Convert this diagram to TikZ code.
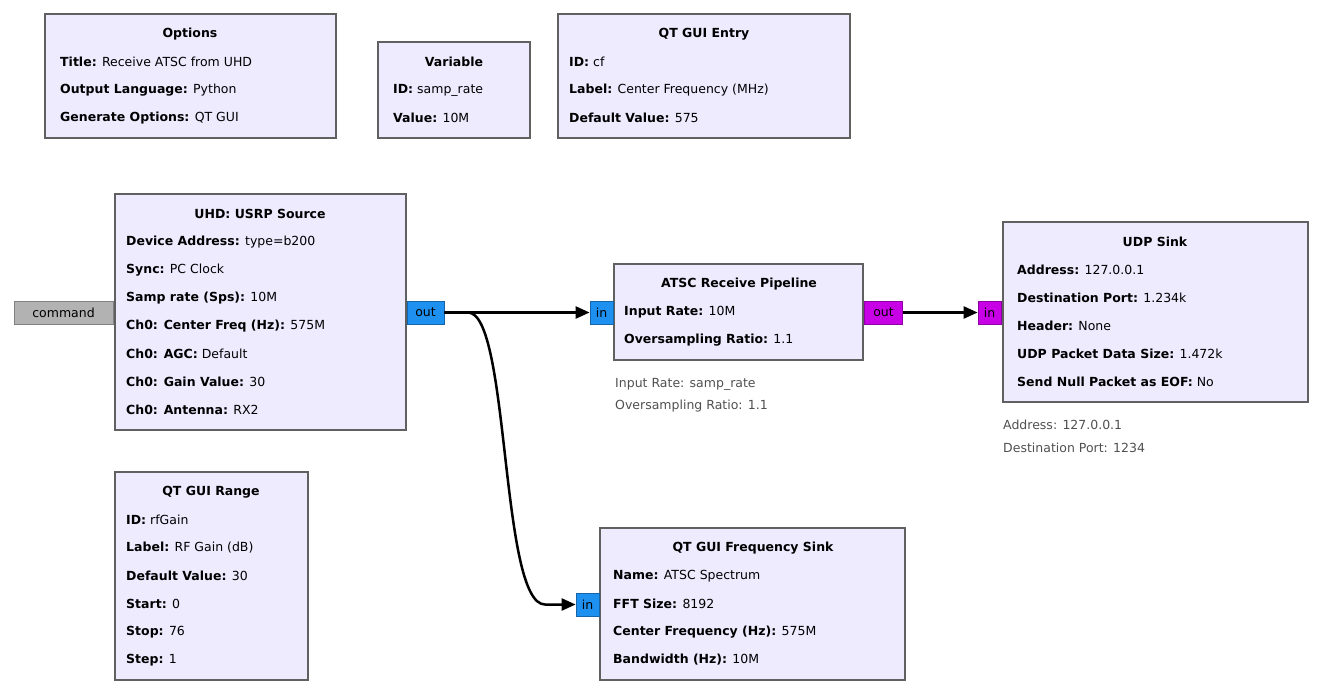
\documentclass[tikz,border=0pt]{standalone}
\usepackage{fontspec}
\setmainfont{DejaVu Sans}
\usetikzlibrary{arrows.meta}
\definecolor{bfill}{RGB}{238,235,255}
\definecolor{bdraw}{RGB}{96,96,96}
\definecolor{pblue}{RGB}{30,144,240}
\definecolor{pmag}{RGB}{200,0,230}
\definecolor{cgray}{RGB}{80,80,80}
\tikzset{
 blk/.style={draw=bdraw,fill=bfill,line width=2.5pt,inner sep=0pt},
 ttl/.style={font=\fontsize{12.5}{14}\selectfont\bfseries,inner sep=0pt,anchor=center},
 ln/.style={font=\fontsize{12.5}{14}\selectfont,inner sep=0pt,anchor=west},
 cmt/.style={font=\fontsize{12.5}{14}\selectfont,text=cgray,inner sep=0pt,anchor=west},
 port/.style={draw,line width=0.8pt,inner sep=0pt,font=\fontsize{12.5}{14}\selectfont,anchor=center},
 bport/.style={port,fill=pblue,draw=pblue!70!black},
 mport/.style={port,fill=pmag,draw=pmag!70!black},
 gport/.style={port,fill=gray!60,draw=gray},
 wire/.style={line width=2.5pt,-{Triangle[length=14pt,width=12pt]}}
}
\newcommand{\blkrect}[5]{\path[blk] (#2,#3) rectangle (#4,#5); \coordinate (#1) at (#2,#3);}
\begin{document}
\begin{tikzpicture}[x=1pt,y=-1pt]
\useasboundingbox (0,0) rectangle (1322,694);
% Options
\blkrect{opt}{45}{14}{336}{138}
\node[ttl] (optt) at (190,34) {Options};
\node[ln] (opt1) at (60,62) {\textbf{Title:} Receive ATSC from UHD};
\node[ln] (opt2) at (60,90) {\textbf{Output Language:} Python};
\node[ln] (opt3) at (60,118) {\textbf{Generate Options:} QT GUI};
% Variable
\blkrect{var}{378}{42}{530}{138}
\node[ttl] (vart) at (454,62) {Variable};
\node[ln] (var1) at (393,90) {\textbf{ID:} samp\_rate};
\node[ln] (var2) at (393,118) {\textbf{Value:} 10M};
% QT GUI Entry
\blkrect{ent}{558}{14}{850}{138}
\node[ttl] (entt) at (704,34) {QT GUI Entry};
\node[ln] (ent1) at (569,62) {\textbf{ID:} cf};
\node[ln] (ent2) at (569,90) {\textbf{Label:} Center Frequency (MHz)};
\node[ln] (ent3) at (569,118) {\textbf{Default Value:} 575};
% UHD
\blkrect{uhd}{115}{194}{406}{430}
\node[ttl] (uhdt) at (260,214) {UHD: USRP Source};
\node[ln] (u1) at (126,242) {\textbf{Device Address:} type=b200};
\node[ln] (u2) at (126,270) {\textbf{Sync:} PC Clock};
\node[ln] (u3) at (126,298) {\textbf{Samp rate (Sps):} 10M};
\node[ln] (u4) at (126,326) {\textbf{Ch0: Center Freq (Hz):} 575M};
\node[ln] (u5) at (126,354) {\textbf{Ch0: AGC:} Default};
\node[ln] (u6) at (126,382) {\textbf{Ch0: Gain Value:} 30};
\node[ln] (u7) at (126,410) {\textbf{Ch0: Antenna:} RX2};
\node[gport,minimum width=99pt,minimum height=23pt] (cmd) at (63.5,312.5) {command};
\node[bport,minimum width=37pt,minimum height=23pt] (uout) at (425.5,312.5) {out};
% ATSC
\blkrect{atsc}{614}{264}{863}{360}
\node[ttl] (at) at (739,284) {ATSC Receive Pipeline};
\node[ln] (a1) at (624,312) {\textbf{Input Rate:} 10M};
\node[ln] (a2) at (624,340) {\textbf{Oversampling Ratio:} 1.1};
\node[bport,minimum width=23pt,minimum height=23pt] (ain) at (601.5,312.5) {in};
\node[mport,minimum width=38pt,minimum height=23pt] (aout) at (883.5,312.5) {out};
\node[cmt] (ac1) at (615,384) {Input Rate: samp\_rate};
\node[cmt] (ac2) at (615,406) {Oversampling Ratio: 1.1};
% UDP
\blkrect{udp}{1003}{222}{1308}{402}
\node[ttl] (udt) at (1155,242) {UDP Sink};
\node[ln] (d1) at (1017,270) {\textbf{Address:} 127.0.0.1};
\node[ln] (d2) at (1017,298) {\textbf{Destination Port:} 1.234k};
\node[ln] (d3) at (1017,326) {\textbf{Header:} None};
\node[ln] (d4) at (1017,354) {\textbf{UDP Packet Data Size:} 1.472k};
\node[ln] (d5) at (1017,382) {\textbf{Send Null Packet as EOF:} No};
\node[mport,minimum width=23pt,minimum height=23pt] (din) at (989.5,312.5) {in};
\node[cmt] (dc1) at (1003,425) {Address: 127.0.0.1};
\node[cmt] (dc2) at (1003,448) {Destination Port: 1234};
% Range
\blkrect{rng}{115}{472}{308}{680}
\node[ttl] (rt) at (211,492) {QT GUI Range};
\node[ln] (r1) at (126,520) {\textbf{ID:} rfGain};
\node[ln] (r2) at (126,548) {\textbf{Label:} RF Gain (dB)};
\node[ln] (r3) at (126,576) {\textbf{Default Value:} 30};
\node[ln] (r4) at (126,604) {\textbf{Start:} 0};
\node[ln] (r5) at (126,632) {\textbf{Stop:} 76};
\node[ln] (r6) at (126,660) {\textbf{Step:} 1};
% Freq sink
\blkrect{fs}{600}{528}{905}{680}
\node[ttl] (ft) at (753,548) {QT GUI Frequency Sink};
\node[ln] (f1) at (613,576) {\textbf{Name:} ATSC Spectrum};
\node[ln] (f2) at (613,604) {\textbf{FFT Size:} 8192};
\node[ln] (f3) at (613,632) {\textbf{Center Frequency (Hz):} 575M};
\node[ln] (f4) at (613,660) {\textbf{Bandwidth (Hz):} 10M};
\node[bport,minimum width=23pt,minimum height=23pt] (fin) at (587.5,604.5) {in};
% wires
\draw[wire] (uout.east) -- (ain.west);
\draw[wire] (aout.east) -- (din.west);
\draw[wire] (uout.east) -- (468,312.5) .. controls (510,312.5) and (500,604.5) .. (545,604.5) -- (fin.west);
\end{tikzpicture}
\end{document}
